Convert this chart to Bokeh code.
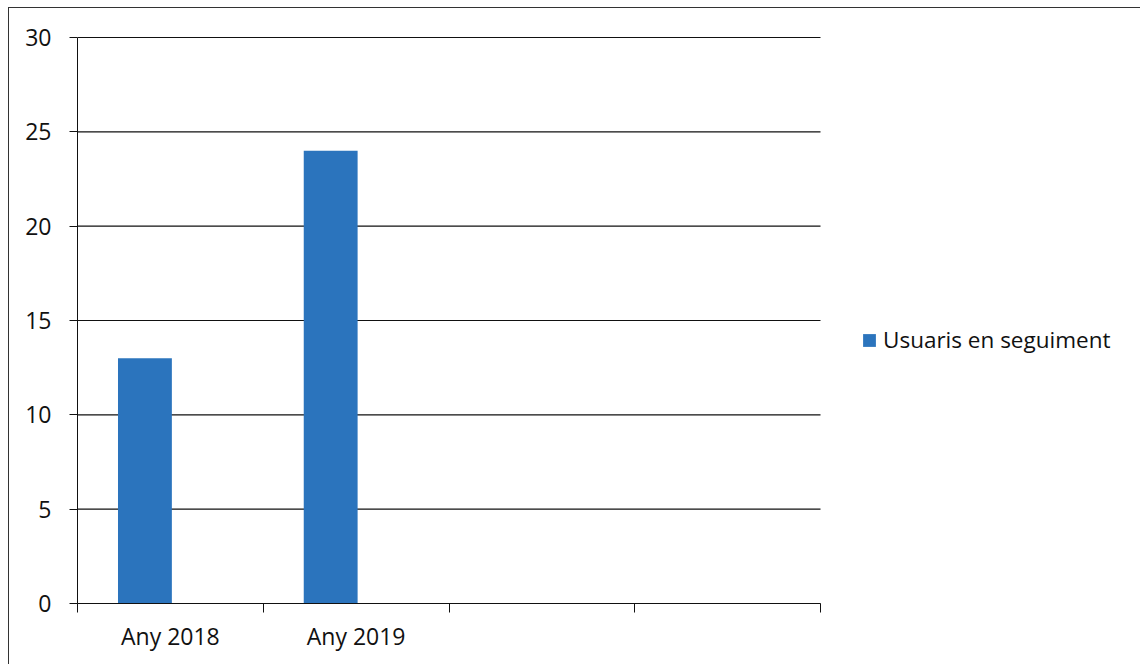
from bokeh.plotting import figure
from bokeh.models import (ColumnDataSource, Range1d, FixedTicker, Legend, LegendItem)
from bokeh.transform import dodge
from bokeh.embed import file_html
from bokeh.resources import INLINE

# data
categories = ["Any 2018", "Any 2019", "", ""]
series_name = "Usuaris en seguiment"
values = [13, 24]
y_ticks = [0, 5, 10, 15, 20, 25, 30]

FONT = "Open Sans"
BAR = "#2b74bd"
LINE = "#111111"

n = len(categories)
ymax = y_ticks[-1]
cat_px = 185.75          # width of one category slot in pixels
frame_w = 1064
unit_y = 566 / ymax

xpos = [i + 0.5 for i in range(len(values))]
src = ColumnDataSource(dict(x=xpos, top=values, cat=categories[:len(values)]))

p = figure(width=1132, height=657, output_backend="svg", toolbar_location=None,
           x_range=Range1d(0, frame_w / cat_px), y_range=Range1d(0, ymax + 2 / unit_y),
           min_border_left=68, min_border_right=0, min_border_top=27, min_border_bottom=62,
           styles={"border-left": "1px solid #333", "border-top": "1px solid #333",
                   "margin-left": "8px", "margin-top": "7px"})
p.outline_line_color = None
p.background_fill_color = "white"
p.border_fill_color = "white"

# horizontal gridlines across the plot area only
p.segment(x0=[0] * len(y_ticks), x1=[n] * len(y_ticks), y0=y_ticks, y1=y_ticks,
          line_color=LINE, line_width=1.2, level="underlay")

r = p.vbar(x=dodge("x", -0.137, range=p.x_range), top="top", width=0.29, bottom=0,
           source=src, fill_color=BAR, line_color=None)

# x axis: labels at category centres, tick marks at category boundaries
xt = FixedTicker(ticks=[i + 0.5 for i in range(n)], minor_ticks=list(range(n + 1)))
p.xaxis.ticker = xt
p.xaxis.bounds = (0, n)
p.xaxis.major_label_overrides = {i + 0.5: c for i, c in enumerate(categories)}
p.xaxis.major_tick_out = 0
p.xaxis.major_tick_in = 0
p.xaxis.minor_tick_out = 9
p.xaxis.minor_tick_in = 0
p.xaxis.minor_tick_line_color = LINE
p.xaxis.axis_line_color = LINE
p.xaxis.major_label_text_font = FONT
p.xaxis.major_label_text_font_size = "23px"
p.xaxis.major_label_text_color = "#111111"
p.xaxis.major_label_standoff = 7

p.yaxis.ticker = FixedTicker(ticks=y_ticks, minor_ticks=[])
p.yaxis.bounds = (0, ymax)
p.yaxis.major_tick_out = 8
p.yaxis.major_tick_in = 0
p.yaxis.major_tick_line_color = LINE
p.yaxis.axis_line_color = LINE
p.yaxis.major_label_text_font = FONT
p.yaxis.major_label_text_font_size = "23px"
p.yaxis.major_label_text_color = "#111111"
p.yaxis.major_label_standoff = 18

p.xgrid.grid_line_color = None
p.ygrid.grid_line_color = None

legend = Legend(items=[LegendItem(label=series_name, renderers=[r])],
                location=(784, 248), padding=0, margin=0, spacing=0,
                glyph_width=16, glyph_height=16, label_standoff=6,
                label_text_font=FONT, label_text_font_size="22.5px",
                label_text_color="#111111",
                border_line_color=None, background_fill_alpha=0)
p.add_layout(legend, "center")

open("out.html", "w").write(file_html(p, INLINE))
